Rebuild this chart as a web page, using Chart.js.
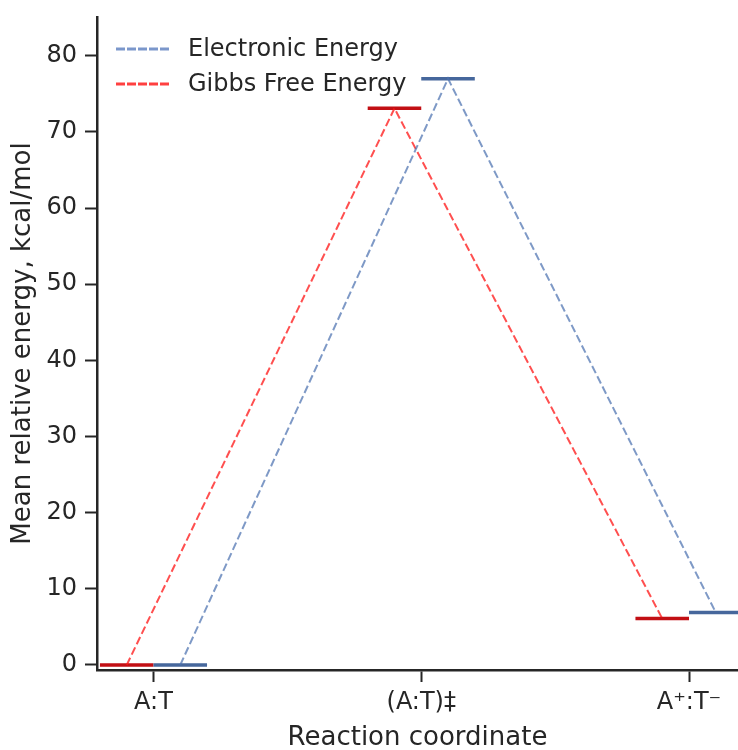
<!DOCTYPE html>
<html>
<head>
<meta charset="utf-8">
<script src="https://cdn.jsdelivr.net/npm/chart.js@4"></script>
<style>
  html, body { margin: 0; padding: 0; background: #fff; }
  #wrap { width: 738px; height: 750px; }
</style>
</head>
<body>
<div id="wrap"><canvas id="energy-Chart" width="738" height="750"></canvas></div>
<script>
const categories = ["A:T", "(A:T)\u2021", "A\u207A:T\u207B"];
const electronic = [0, 77.0, 6.9];
const gibbs = [0, 73.1, 6.1];
const yTicks = [0, 10, 20, 30, 40, 50, 60, 70, 80];

const dark = "#262626";
const levelW = 0.2;

// level bars: gibbs sits left of each category, electronic right of it
function levels(vals, side) {
  const pts = [];
  vals.forEach((v, i) => {
    const a = side < 0 ? i - levelW : i;
    pts.push({ x: a, y: v }, { x: a + levelW, y: v }, { x: a + levelW, y: null });
  });
  return pts;
}
function connectors(vals, side) {
  return vals.map((v, i) => ({ x: i + side * levelW / 2, y: v }));
}

const legendPlugin = {
  id: "customLegend",
  afterDraw(chart) {
    const c = chart.ctx;
    const items = [
      { text: "Electronic Energy", color: "rgba(90,125,190,0.8)", y: 49 },
      { text: "Gibbs Free Energy", color: "rgba(255,30,30,0.85)", y: 84 },
    ];
    c.save();
    items.forEach((it) => {
      c.strokeStyle = it.color;
      c.lineWidth = 3;
      c.setLineDash([9, 2]);
      c.beginPath();
      c.moveTo(116, it.y);
      c.lineTo(171, it.y);
      c.stroke();
      c.setLineDash([]);
      c.fillStyle = dark;
      c.font = "24px 'DejaVu Sans'";
      c.textBaseline = "middle";
      c.fillText(it.text, 188, it.y + 1);
    });
    c.restore();
  },
};

document.addEventListener("DOMContentLoaded", () => {
  const ctx = document.getElementById("energy-Chart");
  if (!ctx) {
    console.error("Canvas element not found");
    return;
  }
  new Chart(ctx, {
    type: "line",
    data: {
      datasets: [
        {
          data: connectors(electronic, 1),
          borderColor: "rgba(76,114,176,0.72)",
          borderWidth: 2,
          borderDash: [8, 3.5],
          pointRadius: 0,
        },
        {
          data: connectors(gibbs, -1),
          borderColor: "rgba(255,20,20,0.75)",
          borderWidth: 2,
          borderDash: [8, 3.5],
          pointRadius: 0,
        },
        {
          data: levels(electronic, 1),
          borderColor: "#46679c",
          borderWidth: 3.5,
          pointRadius: 0,
          spanGaps: false,
        },
        {
          data: levels(gibbs, -1),
          borderColor: "#c20f14",
          borderWidth: 3.5,
          pointRadius: 0,
          spanGaps: false,
        },
      ],
    },
    options: {
      responsive: false,
      animation: false,
      layout: { padding: { top: 17, right: 0, left: 0, bottom: 0 } },
      plugins: { legend: { display: false }, tooltip: { enabled: false } },
      scales: {
        x: {
          type: "linear",
          min: -0.211,
          max: 2.183,
          afterBuildTicks: (s) => {
            s.ticks = categories.map((_, i) => ({ value: i }));
          },
          afterFit: (s) => {
            s.height = 80;
          },
          ticks: {
            callback: (v) => categories[v],
            color: dark,
            font: { family: "DejaVu Sans", size: 24 },
            padding: 6,
            maxRotation: 0,
          },
          grid: {
            drawOnChartArea: false,
            tickLength: 12,
            tickWidth: 2,
            tickColor: dark,
          },
          border: { display: true, color: dark, width: 2.5 },
          title: {
            display: true,
            text: "Reaction coordinate",
            color: dark,
            font: { family: "DejaVu Sans", size: 26, lineHeight: 0.9 },
            padding: { top: 0, bottom: 0 },
          },
        },
        y: {
          type: "linear",
          min: -0.66,
          max: 85.1,
          afterBuildTicks: (s) => {
            s.ticks = yTicks.map((v) => ({ value: v }));
          },
          afterFit: (s) => {
            s.width = 97;
          },
          ticks: {
            color: dark,
            font: { family: "DejaVu Sans", size: 24, lineHeight: 0.6 },
            padding: 8,
          },
          grid: {
            drawOnChartArea: false,
            tickLength: 12,
            tickWidth: 2,
            tickColor: dark,
          },
          border: { display: true, color: dark, width: 2.5 },
          title: {
            display: true,
            text: "Mean relative energy, kcal/mol",
            color: dark,
            font: { family: "DejaVu Sans", size: 26 },
            padding: { top: 8, bottom: 0 },
          },
        },
      },
    },
    plugins: [legendPlugin],
  });
});
</script>
</body>
</html>
